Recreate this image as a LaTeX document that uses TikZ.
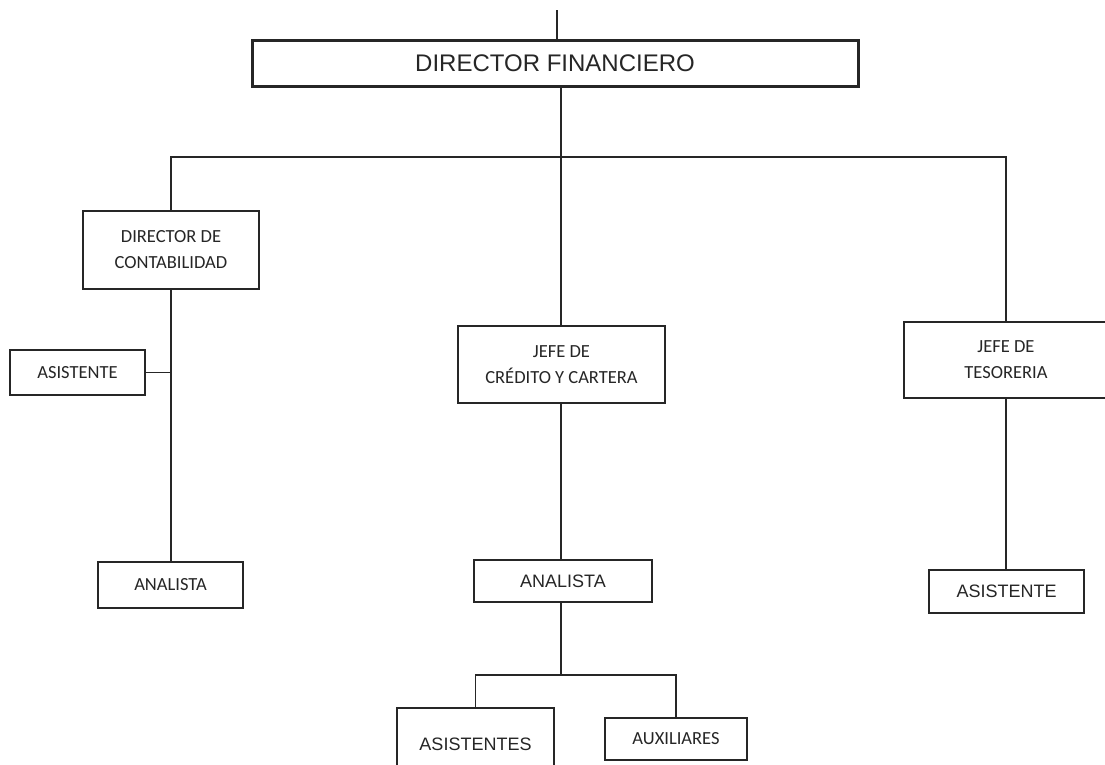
\documentclass[tikz,border=0pt]{standalone}
\usepackage{fontspec}
\setmainfont{Liberation Sans}
\newfontfamily\calibfont{Carlito}
\begin{document}
\begin{tikzpicture}[x=1pt,y=-1pt,
  box/.style={draw=black!85, line width=1.6pt, rectangle, inner sep=0pt, align=center, text=black!85},
  ln/.style={draw=black!85, line width=1.6pt},
  arialtxt/.style={font=\fontsize{18}{21}\selectfont},
  calibtxt/.style={font=\calibfont\fontsize{18.5}{26}\selectfont}]
\useasboundingbox[fill=white] (0,0) rectangle (1105,764);
% nodes
\node[box, line width=3pt, minimum width=606pt, minimum height=46pt, font=\fontsize{24}{28}\selectfont] (df) at (555,63) {DIRECTOR FINANCIERO};
\node[box, calibtxt, minimum width=176pt, minimum height=78pt] (dc) at (171,250) {DIRECTOR DE\\CONTABILIDAD};
\node[box, calibtxt, minimum width=135pt, minimum height=45pt] (as1) at (77.5,372.5) {ASISTENTE};
\node[box, calibtxt, minimum width=145pt, minimum height=46pt] (an1) at (170.5,585) {ANALISTA};
\node[box, calibtxt, minimum width=207pt, minimum height=77pt] (jc) at (561.5,364.5) {JEFE DE\\CRÉDITO Y CARTERA};
\node[box, arialtxt, minimum width=178pt, minimum height=42pt] (an2) at (563,581) {ANALISTA};
\node[box, arialtxt, minimum width=157pt, minimum height=72pt] (ass) at (475.5,744) {ASISTENTES};
\node[box, calibtxt, minimum width=142pt, minimum height=42pt] (aux) at (676,739) {AUXILIARES};
\node[box, calibtxt, minimum width=204pt, minimum height=76pt] (jt) at (1006,360) {JEFE DE\\TESORERIA};
\node[box, arialtxt, minimum width=155pt, minimum height=43pt] (as3) at (1006.5,591.5) {ASISTENTE};
% connectors
\coordinate (t0) at (557,10);
\coordinate (bar) at (561,157);
\coordinate (bar2) at (561,675);
\draw[ln] (t0) -- (t0 |- df.north);
\draw[ln] (df.south -| bar) -- (bar);
\draw[ln] (dc.north) |- (bar) -| (jt.north);
\draw[ln] (bar) -- (bar |- jc.north);
\draw[ln] (dc.south) -- (dc.south |- an1.north);
\draw[ln] (as1.east) -- (as1.east -| dc.south);
\draw[ln] (jc.south -| bar) -- (bar |- an2.north);
\draw[ln] (an2.south -| bar2) -- (bar2);
\draw[ln] (ass.north) |- (bar2) -| (aux.north);
\draw[ln] (jt.south) -- (jt.south |- as3.north);
\end{tikzpicture}
\end{document}
